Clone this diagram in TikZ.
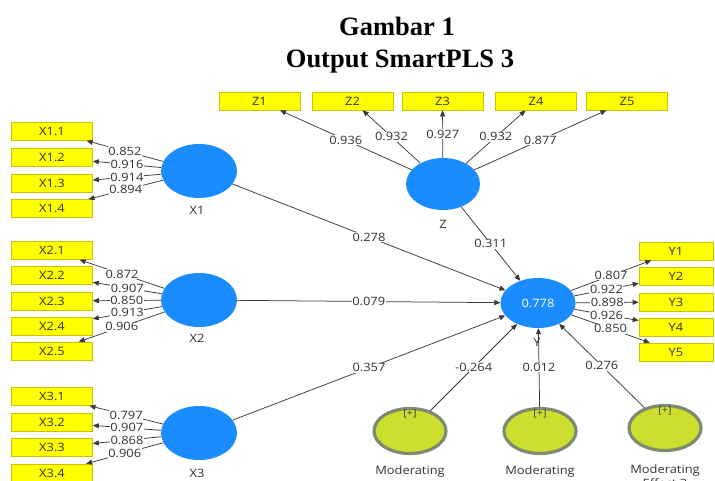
\documentclass[tikz,border=0pt]{standalone}
\usepackage{fontspec}
\usetikzlibrary{shapes.geometric,arrows.meta}
\setmainfont{Liberation Serif}
\newfontfamily\lblfont{Open Sans}[FakeStretch=1.12]
\definecolor{lvblue}{HTML}{1A8CFF}
\definecolor{indyellow}{HTML}{FFFF00}
\definecolor{indedge}{HTML}{C8C400}
\definecolor{modfill}{HTML}{CDDF2E}
\definecolor{modedge}{HTML}{7D8B70}
\definecolor{txt}{HTML}{333333}
\definecolor{edgecol}{HTML}{3A3A3A}
\begin{document}
\begin{tikzpicture}[x=1pt,y=-1pt,
 ind/.style={rectangle, fill=indyellow, draw=indedge, line width=0.6pt, minimum width=81pt, minimum height=18pt, inner sep=0pt, font=\lblfont\fontsize{11.5}{11.5}\selectfont, text=txt},
 lv/.style={ellipse, fill=lvblue, minimum width=76pt, minimum height=54pt, inner sep=0pt},
 modlv/.style={ellipse, fill=modfill, draw=modedge, line width=3.2pt, minimum width=72pt, minimum height=45pt, inner sep=0pt},
 lvname/.style={font=\lblfont\fontsize{11.5}{11.5}\selectfont, text=txt},
 coef/.style={fill=white, inner sep=0.6pt, font=\lblfont\fontsize{11.5}{11.5}\selectfont, text=txt},
 conn/.style={draw=edgecol, line width=0.75pt, -{Triangle[length=6pt,width=5pt]}},
 ttl/.style={font=\bfseries\fontsize{26.5}{26.5}\selectfont, anchor=base},
 plus/.style={font=\lblfont\fontsize{9.5}{9.5}\selectfont, text=black!75!olive},
]
\useasboundingbox (0,0) rectangle (715,480);
% title
\node[ttl] (t1) at (397,35) {Gambar 1};
\node[ttl] (t2) at (400,67) {Output SmartPLS 3};
% latent variables
\node[lv] (X1) at (199,171) {};
\node[lv] (X2) at (199,300) {};
\node[lv] (X3) at (199,433) {};
\node[lv, minimum width=74pt, minimum height=52pt] (Z) at (443,184) {};
\node[lv, minimum width=75pt, minimum height=50pt, text=white, font=\lblfont\fontsize{11.5}{11.5}\selectfont] (Y) at (538,303) {0.778};
\node[modlv] (M1) at (410,431) {};
\node[modlv] (M2) at (540,431) {};
\node[modlv] (M3) at (665,428) {};
% names
\node[lvname] (nX1) at (197,210) {X1};
\node[lvname] (nX2) at (197,338) {X2};
\node[lvname] (nX3) at (197,473) {X3};
\node[lvname] (nZ) at (443,224) {Z};
\node[lvname] (nY) at (537,342) {Y};
\node[lvname] (nM1) at (410,472) {Moderating};
\node[lvname] (nM2) at (540,472) {Moderating};
\node[lvname, align=center] (nM3) at (665,476) {Moderating\\[1pt]Effect 3};
\node[plus] (p1) at (410,414) {[+]};
\node[plus] (p2) at (540,414) {[+]};
\node[plus] (p3) at (665,411) {[+]};
% indicators X1
\node[ind] (X11) at (52,131.5) {X1.1};
\node[ind] (X12) at (52,157.5) {X1.2};
\node[ind] (X13) at (52,183.5) {X1.3};
\node[ind] (X14) at (52,208.5) {X1.4};
% X2
\node[ind] (X21) at (52,250.5) {X2.1};
\node[ind] (X22) at (52,275.5) {X2.2};
\node[ind] (X23) at (52,301) {X2.3};
\node[ind] (X24) at (52,326) {X2.4};
\node[ind] (X25) at (52,351) {X2.5};
% X3
\node[ind] (X31) at (52,396.5) {X3.1};
\node[ind] (X32) at (52,422.5) {X3.2};
\node[ind] (X33) at (52,447.5) {X3.3};
\node[ind] (X34) at (52,473) {X3.4};
% Z
\node[ind] (Z1) at (259.5,101) {Z1};
\node[ind] (Z2) at (352.5,101) {Z2};
\node[ind] (Z3) at (442.5,101) {Z3};
\node[ind] (Z4) at (536,101) {Z4};
\node[ind] (Z5) at (627,101) {Z5};
% Y
\node[ind, minimum width=74pt] (Y1) at (676,251) {Y1};
\node[ind, minimum width=74pt] (Y2) at (676,276) {Y2};
\node[ind, minimum width=74pt] (Y3) at (676,302) {Y3};
\node[ind, minimum width=74pt] (Y4) at (676,327) {Y4};
\node[ind, minimum width=74pt] (Y5) at (676,352) {Y5};
% loadings
\draw[conn] (X1) -- node[coef] {0.852} (X11);
\draw[conn] (X1) -- node[coef] {0.916} (X12);
\draw[conn] (X1) -- node[coef] {0.914} (X13);
\draw[conn] (X1) -- node[coef] {0.894} (X14);
\draw[conn] (X2) -- node[coef] {0.872} (X21);
\draw[conn] (X2) -- node[coef] {0.907} (X22);
\draw[conn] (X2) -- node[coef] {0.850} (X23);
\draw[conn] (X2) -- node[coef] {0.913} (X24);
\draw[conn] (X2) -- node[coef] {0.906} (X25);
\draw[conn] (X3) -- node[coef] {0.797} (X31);
\draw[conn] (X3) -- node[coef] {0.907} (X32);
\draw[conn] (X3) -- node[coef] {0.868} (X33);
\draw[conn] (X3) -- node[coef] {0.906} (X34);
\draw[conn] (Z) -- node[coef] {0.936} (Z1);
\draw[conn] (Z) -- node[coef] {0.932} (Z2);
\draw[conn] (Z) -- node[coef] {0.927} (Z3);
\draw[conn] (Z) -- node[coef] {0.932} (Z4);
\draw[conn] (Z) -- node[coef] {0.877} (Z5);
\draw[conn] (Y) -- node[coef] {0.807} (Y1);
\draw[conn] (Y) -- node[coef] {0.922} (Y2);
\draw[conn] (Y) -- node[coef] {0.898} (Y3);
\draw[conn] (Y) -- node[coef] {0.926} (Y4);
\draw[conn] (Y) -- node[coef] {0.850} (Y5);
% structural paths
\draw[conn] (X1) -- node[coef] {0.278} (Y);
\draw[conn] (X2) -- node[coef] {0.079} (Y);
\draw[conn] (X3) -- node[coef] {0.357} (Y);
\draw[conn] (Z) -- node[coef] {0.311} (Y);
\draw[conn] (M1) -- node[coef] {-0.264} (Y);
\draw[conn] (M2) -- node[coef] {0.012} (Y);
\draw[conn] (M3) -- node[coef] {0.276} (Y);
\end{tikzpicture}
\end{document}
